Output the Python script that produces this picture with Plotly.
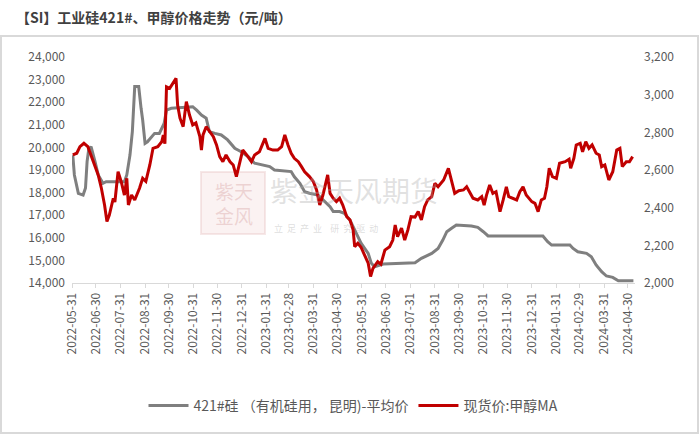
import plotly.graph_objects as go

# ---- data ----
si_dates = ["2022-06-01","2022-06-03","2022-06-08","2022-06-14","2022-06-17","2022-06-19","2022-06-21","2022-06-24",
    "2022-06-29","2022-07-03","2022-07-09","2022-07-13","2022-08-05","2022-08-08","2022-08-12","2022-08-15",
    "2022-08-18","2022-08-23","2022-08-26","2022-08-28","2022-08-31","2022-09-03","2022-09-12","2022-09-18",
    "2022-09-24","2022-09-27","2022-10-03","2022-10-30","2022-11-04","2022-11-10","2022-11-16","2022-11-20",
    "2022-11-27","2022-12-05","2022-12-13","2022-12-22","2022-12-30","2023-01-08","2023-01-16","2023-01-25",
    "2023-02-04","2023-02-10","2023-03-03","2023-03-07","2023-03-14","2023-03-20","2023-03-26","2023-04-06",
    "2023-04-14","2023-04-21","2023-04-25","2023-05-03","2023-05-09","2023-05-16","2023-05-22","2023-05-30",
    "2023-06-08","2023-06-12","2023-06-16","2023-06-27","2023-08-06","2023-08-14","2023-08-27","2023-09-04",
    "2023-09-10","2023-09-15","2023-09-21","2023-09-27","2023-10-16","2023-10-24","2023-10-31","2023-11-06",
    "2024-01-14","2024-01-20","2024-01-25","2024-02-17","2024-02-21","2024-02-27","2024-03-09","2024-03-15",
    "2024-03-21","2024-03-28","2024-04-03","2024-04-11","2024-04-18","2024-05-07"]
si_values = [19660,18780,17970,17890,18200,19370,19900,20030,
    19370,18780,18410,18480,18480,18780,19660,20700,
    22690,22690,21730,21210,20180,20250,20620,20620,
    21060,21650,21730,21800,21650,21430,21290,20700,
    20620,20550,20330,19960,19810,19590,19300,19220,
    19150,19000,18930,18700,18410,18040,17970,17890,
    17600,17380,17160,17160,17080,16790,16350,15760,
    15310,14870,14720,14840,14900,15090,15310,15530,
    15900,16270,16420,16570,16520,16460,16270,16080,
    16080,15830,15680,15680,15530,15380,15310,15160,
    14800,14500,14310,14250,14100,14100]

ma_dates = ["2022-06-01","2022-06-06","2022-06-10","2022-06-15","2022-06-20","2022-06-24","2022-06-29","2022-07-03",
    "2022-07-07","2022-07-11","2022-07-14","2022-07-17","2022-07-22","2022-07-24","2022-07-28","2022-08-01",
    "2022-08-05","2022-08-08","2022-08-10","2022-08-14","2022-08-18","2022-08-24","2022-08-28","2022-09-01",
    "2022-09-06","2022-09-10","2022-09-16","2022-09-21","2022-09-23","2022-09-25","2022-09-27","2022-10-01",
    "2022-10-05","2022-10-09","2022-10-11","2022-10-14","2022-10-18","2022-10-22","2022-10-26","2022-10-30",
    "2022-11-03","2022-11-08","2022-11-10","2022-11-12","2022-11-16","2022-11-20","2022-11-25","2022-11-29",
    "2022-12-03","2022-12-07","2022-12-11","2022-12-16","2022-12-20","2022-12-24","2022-12-28","2023-01-01",
    "2023-01-06","2023-01-12","2023-01-16","2023-01-22","2023-01-29","2023-02-02","2023-02-08","2023-02-14",
    "2023-02-19","2023-02-23","2023-02-27","2023-03-03","2023-03-07","2023-03-12","2023-03-16","2023-03-20",
    "2023-03-26","2023-03-31","2023-04-04","2023-04-08","2023-04-12","2023-04-16","2023-04-18","2023-04-21",
    "2023-04-25","2023-04-29","2023-05-03","2023-05-07","2023-05-12","2023-05-16","2023-05-20","2023-05-22",
    "2023-05-26","2023-05-30","2023-06-04","2023-06-08","2023-06-11","2023-06-14","2023-06-20","2023-06-24",
    "2023-06-29","2023-07-05","2023-07-09","2023-07-12","2023-07-15","2023-07-20","2023-07-24","2023-07-28",
    "2023-08-01","2023-08-06","2023-08-10","2023-08-14","2023-08-18","2023-08-22","2023-08-27","2023-08-31",
    "2023-09-04","2023-09-08","2023-09-11","2023-09-17","2023-09-21","2023-09-25","2023-09-30","2023-10-06",
    "2023-10-10","2023-10-14","2023-10-18","2023-10-24","2023-10-29","2023-11-01","2023-11-04","2023-11-08",
    "2023-11-12","2023-11-16","2023-11-21","2023-11-25","2023-11-29","2023-12-02","2023-12-07","2023-12-12",
    "2023-12-16","2023-12-20","2023-12-24","2023-12-31","2024-01-04","2024-01-08","2024-01-12","2024-01-16",
    "2024-01-19","2024-01-22","2024-01-26","2024-01-31","2024-02-04","2024-02-11","2024-02-16","2024-02-18",
    "2024-02-22","2024-02-25","2024-03-01","2024-03-04","2024-03-08","2024-03-12","2024-03-16","2024-03-21",
    "2024-03-25","2024-03-28","2024-04-01","2024-04-06","2024-04-11","2024-04-16","2024-04-20","2024-04-23",
    "2024-04-28","2024-05-02","2024-05-06"]
ma_values = [2680,2689,2724,2742,2724,2680,2627,2574,
    2503,2414,2326,2361,2450,2430,2591,2538,
    2467,2556,2414,2467,2441,2503,2556,2540,
    2627,2715,2724,2750,2786,2740,3042,3034,
    3060,3087,2945,2875,2830,2963,2892,2839,
    2850,2777,2706,2786,2830,2804,2777,2733,
    2671,2644,2680,2644,2627,2565,2644,2706,
    2680,2644,2680,2697,2768,2715,2706,2706,
    2724,2786,2733,2689,2662,2644,2618,2591,
    2565,2538,2494,2414,2467,2529,2574,2476,
    2450,2432,2450,2414,2352,2335,2282,2193,
    2211,2190,2140,2105,2034,2078,2113,2100,
    2175,2193,2228,2308,2246,2291,2228,2282,
    2352,2350,2379,2335,2405,2441,2459,2529,
    2511,2529,2547,2609,2538,2476,2490,2494,
    2511,2476,2450,2441,2459,2414,2467,2520,
    2476,2485,2379,2441,2511,2459,2450,2441,
    2485,2511,2467,2432,2423,2379,2441,2450,
    2511,2609,2565,2556,2636,2644,2657,2609,
    2662,2733,2742,2697,2750,2715,2733,2689,
    2680,2618,2627,2547,2591,2706,2715,2618,
    2644,2644,2671]

tick_dates = ["2022-05-31","2022-06-30","2022-07-31","2022-08-31","2022-09-30","2022-10-31","2022-11-30",
    "2022-12-31","2023-01-31","2023-02-28","2023-03-31","2023-04-30","2023-05-31","2023-06-30","2023-07-31",
    "2023-08-31","2023-09-30","2023-10-31","2023-11-30","2023-12-31","2024-01-31","2024-02-29","2024-03-31",
    "2024-04-30"]

title_text = "【SI】工业硅421#、甲醇价格走势（元/吨）"
name_si = "421#硅 （有机硅用， 昆明)-平均价"
name_ma = "现货价:甲醇MA"

# ---- layout geometry (pixels) ----
W, H = 700, 435
L, R, T, B = 72, 635, 57, 283
def px(x):
    return (x - L) / (R - L)
def py(y):
    return (B - y) / (B - T)

FONT = "Noto Sans CJK SC"
GRAY_TXT = "#595959"

fig = go.Figure()
fig.add_trace(go.Scatter(x=si_dates, y=si_values, name=name_si, mode="lines",
                         line=dict(color="#7f7f7f", width=3), yaxis="y"))
fig.add_trace(go.Scatter(x=ma_dates, y=ma_values, name=name_ma, mode="lines",
                         line=dict(color="#c00000", width=3), yaxis="y2"))

fig.update_layout(
    width=W, height=H,
    margin=dict(l=L, r=W - R, t=T, b=H - B),
    paper_bgcolor="white", plot_bgcolor="white",
    font=dict(family=FONT, size=12, color=GRAY_TXT),
    showlegend=True,
    legend=dict(orientation="h", x=0.5, xanchor="center", y=py(406), yanchor="middle",
                font=dict(size=14, color=GRAY_TXT), itemwidth=40, bgcolor="rgba(0,0,0,0)"),
    xaxis=dict(type="date", range=["2022-05-31", "2024-05-09"],
               tickmode="array", tickvals=tick_dates, ticktext=tick_dates,
               tickangle=-90, tickfont=dict(size=12, color=GRAY_TXT),
               showgrid=False, zeroline=False,
               showline=True, linecolor="#d9d9d9", linewidth=1,
               ticks="outside", ticklen=4, tickcolor="#d9d9d9"),
    yaxis=dict(range=[14000, 24000], dtick=1000, tick0=14000, tickformat=",",
               showgrid=False, zeroline=False, showline=False,
               tickfont=dict(size=12, color=GRAY_TXT), ticks="", ticklabelstandoff=6),
    yaxis2=dict(range=[2000, 3200], dtick=200, tick0=2000, tickformat=",",
                overlaying="y", side="right",
                showgrid=False, zeroline=False, showline=False,
                tickfont=dict(size=12, color=GRAY_TXT), ticks="", ticklabelstandoff=8),
)

# title
fig.add_annotation(text="<b>" + title_text + "</b>", xref="paper", yref="paper",
                   x=px(14), y=py(17), xanchor="left", yanchor="middle", showarrow=False,
                   font=dict(family=FONT, size=14, color="#404040"))

# frame around chart body
fig.add_shape(type="rect", xref="paper", yref="paper",
              x0=px(1), x1=px(698), y0=py(433), y1=py(36),
              line=dict(color="#d9d9d9", width=2), fillcolor="rgba(0,0,0,0)", layer="below")

# watermark
fig.add_shape(type="rect", xref="paper", yref="paper",
              x0=px(201), x1=px(265), y0=py(234), y1=py(172),
              line=dict(color="rgba(230,190,190,0.35)", width=2), fillcolor="rgba(240,205,205,0.25)", layer="below")
fig.add_annotation(text="紫天<br>金风", xref="paper", yref="paper", x=px(213), y=py(203),
                   xanchor="left", yanchor="middle", align="left",
                   showarrow=False, font=dict(family=FONT, size=19, color="rgba(210,150,150,0.35)"))
fig.add_annotation(text="紫金天风期货", xref="paper", yref="paper", x=px(268), y=py(190),
                   xanchor="left", yanchor="middle", showarrow=False,
                   font=dict(family=FONT, size=28, color="rgba(170,170,170,0.35)"))
fig.add_annotation(text="立  足  产  业    研  究  驱  动", xref="paper", yref="paper", x=px(272), y=py(228),
                   xanchor="left", yanchor="middle", showarrow=False,
                   font=dict(family=FONT, size=9, color="rgba(170,170,170,0.4)"))

fig.write_html("out.html")
